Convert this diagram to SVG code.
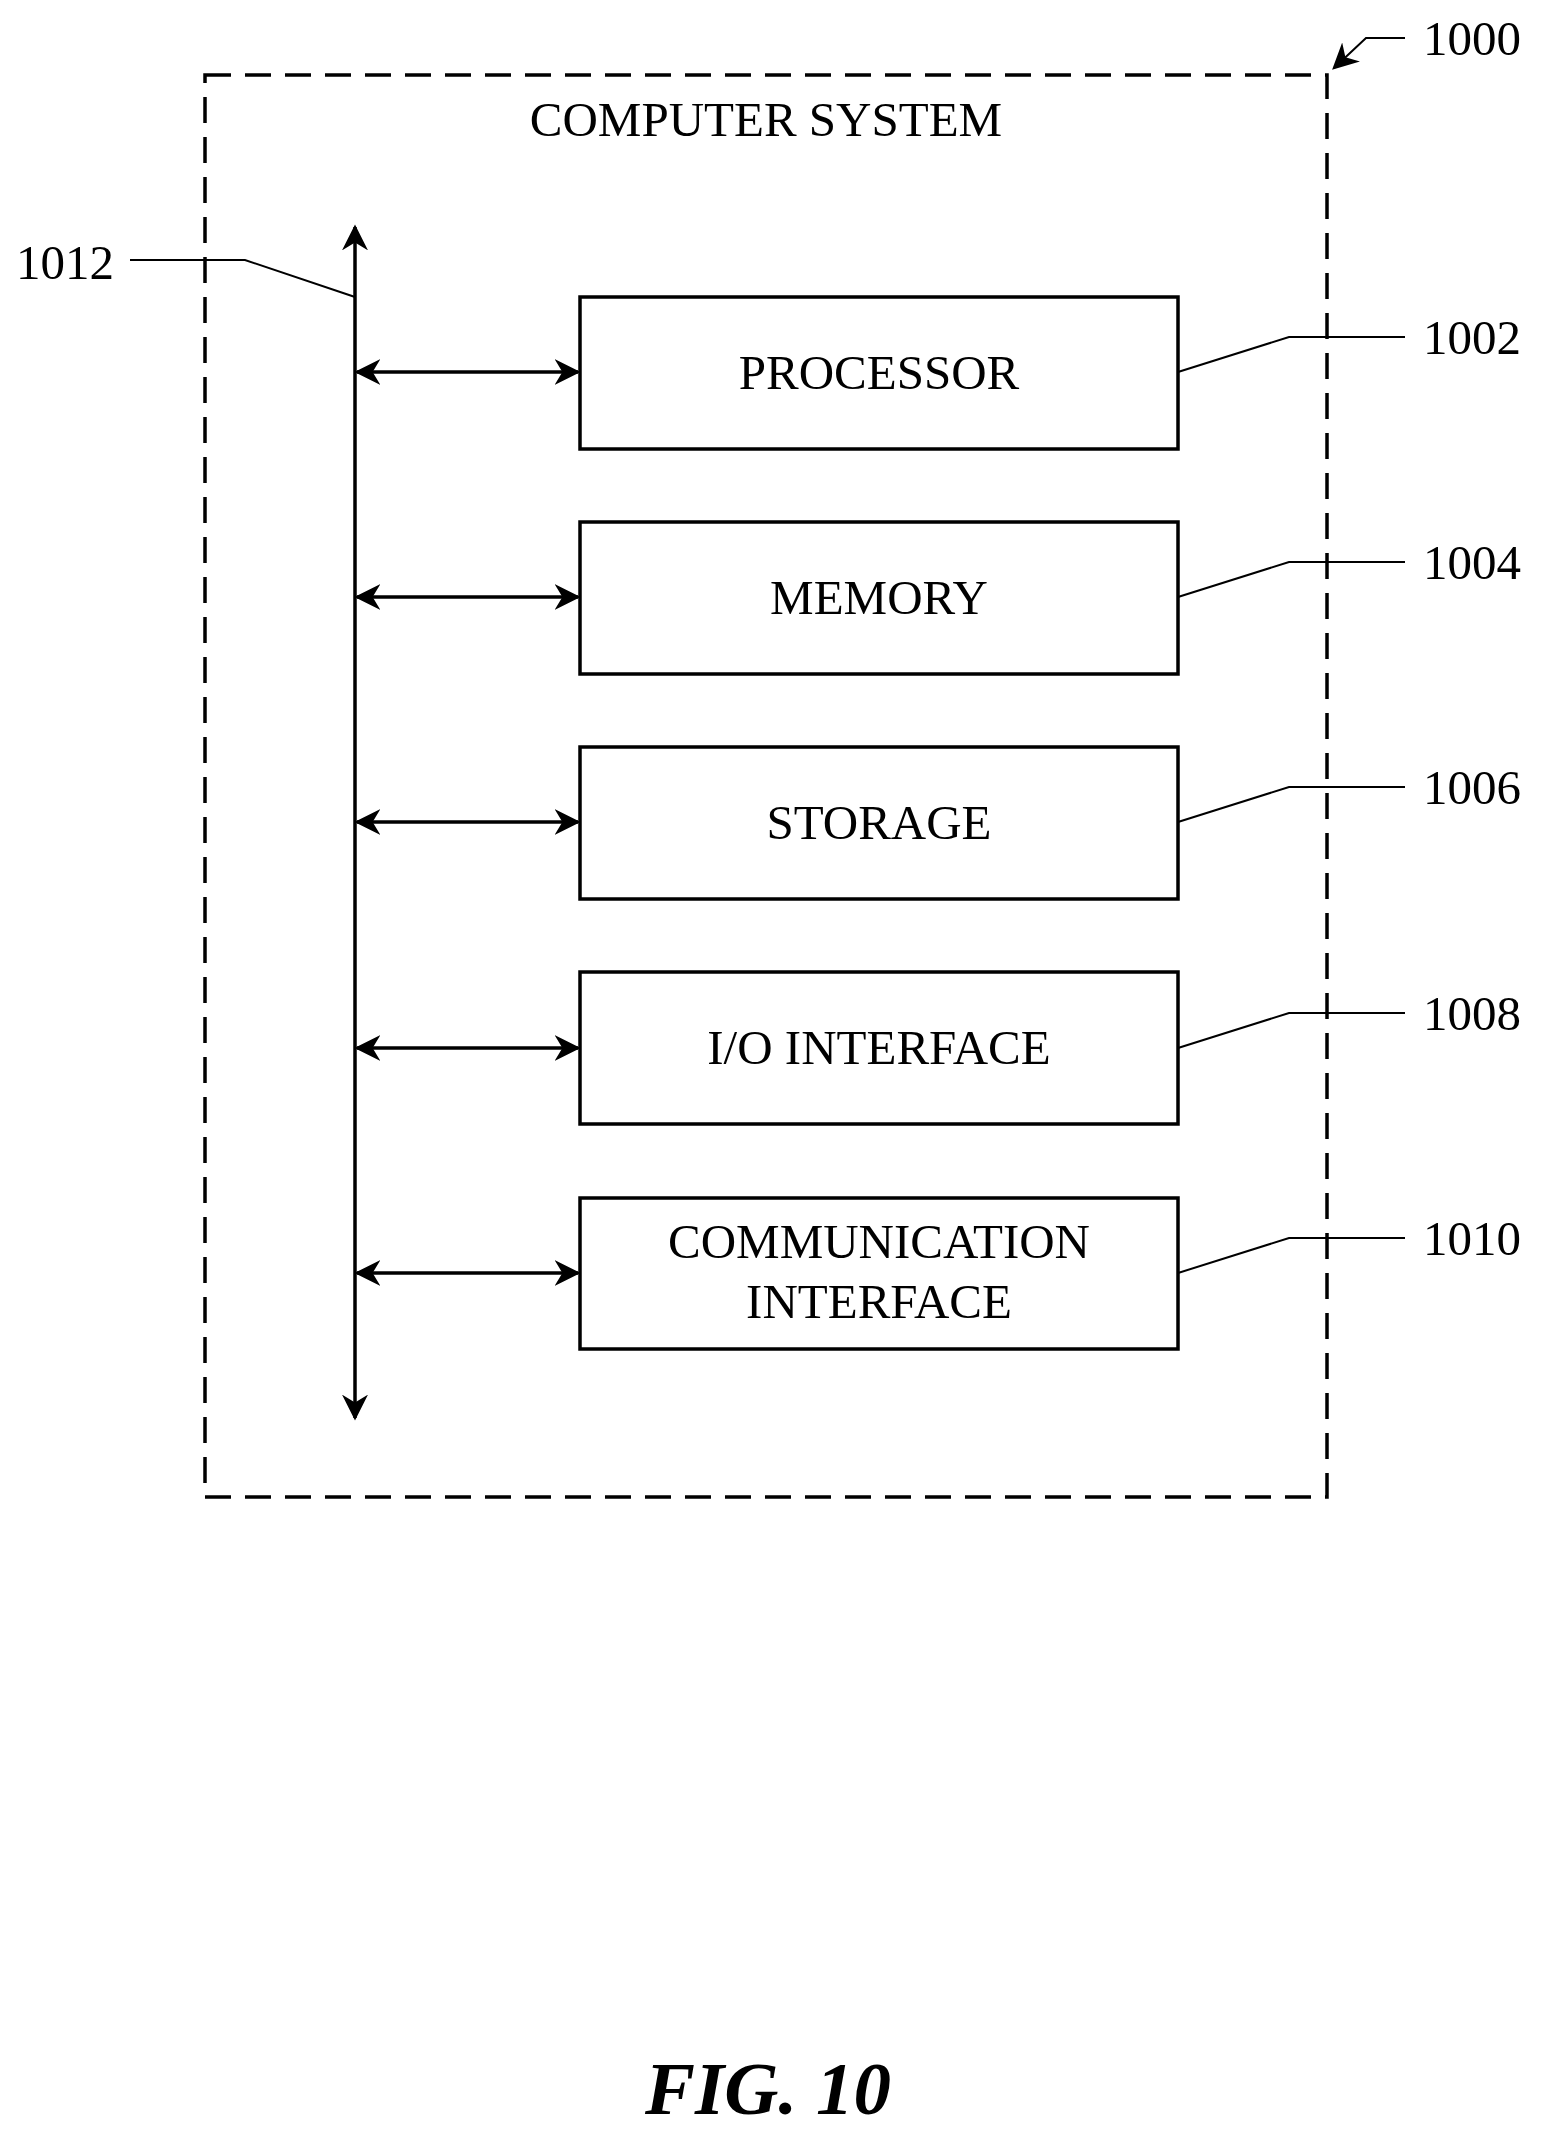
<svg xmlns="http://www.w3.org/2000/svg" width="1542" height="2141" viewBox="0 0 1542 2141">
<style>
text{font-family:"Liberation Serif",serif;fill:#000}
.t{font-size:49px;text-anchor:middle}
.n{font-size:49px}
.box{fill:#fff;stroke:#000;stroke-width:3.5}
.ln{fill:none;stroke:#000;stroke-width:2}
.ar{fill:none;stroke:#000;stroke-width:3.5}
</style>
<defs>
<marker id="b" viewBox="0 0 10 10" refX="9" refY="5" markerWidth="26" markerHeight="26" markerUnits="userSpaceOnUse" orient="auto-start-reverse"><path d="M0,0 L10,5 L0,10 L3,5z" fill="#000"/></marker>
</defs>
<rect width="1542" height="2141" fill="#fff"/>
<g id="system">
<rect x="205" y="75" width="1122" height="1422" fill="none" stroke="#000" stroke-width="3.5" stroke-dasharray="26,14"/>
<text class="t" x="766" y="136">COMPUTER SYSTEM</text>
</g>
<g id="processor"><rect class="box" x="580" y="297" width="598" height="152"/><text class="t" x="879" y="389">PROCESSOR</text></g>
<g id="memory"><rect class="box" x="580" y="522" width="598" height="152"/><text class="t" x="879" y="614">MEMORY</text></g>
<g id="storage"><rect class="box" x="580" y="747" width="598" height="152"/><text class="t" x="879" y="839">STORAGE</text></g>
<g id="io"><rect class="box" x="580" y="972" width="598" height="152"/><text class="t" x="879" y="1064">I/O INTERFACE</text></g>
<g id="comm"><rect class="box" x="580" y="1198" width="598" height="151"/><text class="t" x="879" y="1258">COMMUNICATION</text><text class="t" x="879" y="1318">INTERFACE</text></g>
<g id="connectors">
<line class="ar" x1="355" y1="227" x2="355" y2="1418" marker-start="url(#b)" marker-end="url(#b)"/>
<line class="ar" x1="357" y1="372" x2="578" y2="372" marker-start="url(#b)" marker-end="url(#b)"/>
<line class="ar" x1="357" y1="597" x2="578" y2="597" marker-start="url(#b)" marker-end="url(#b)"/>
<line class="ar" x1="357" y1="822" x2="578" y2="822" marker-start="url(#b)" marker-end="url(#b)"/>
<line class="ar" x1="357" y1="1048" x2="578" y2="1048" marker-start="url(#b)" marker-end="url(#b)"/>
<line class="ar" x1="357" y1="1273" x2="578" y2="1273" marker-start="url(#b)" marker-end="url(#b)"/>
<polyline class="ln" points="1178,372 1289,337 1405,337"/>
<polyline class="ln" points="1178,597 1289,562 1405,562"/>
<polyline class="ln" points="1178,822 1289,787 1405,787"/>
<polyline class="ln" points="1178,1048 1289,1013 1405,1013"/>
<polyline class="ln" points="1178,1273 1289,1238 1405,1238"/>
<polyline class="ln" points="130,260 245,260 355,297"/>
<polyline class="ln" points="1405,38 1366,38 1334,68" marker-end="url(#b)"/>
</g>
<g id="labels">
<text class="n" x="1423" y="354">1002</text>
<text class="n" x="1423" y="579">1004</text>
<text class="n" x="1423" y="804">1006</text>
<text class="n" x="1423" y="1030">1008</text>
<text class="n" x="1423" y="1255">1010</text>
<text class="n" x="16" y="279">1012</text>
<text class="n" x="1423" y="55">1000</text>
<text x="768" y="2114" style="font-size:75px;font-weight:bold;font-style:italic;text-anchor:middle">FIG. 10</text>
</g>
</svg>
